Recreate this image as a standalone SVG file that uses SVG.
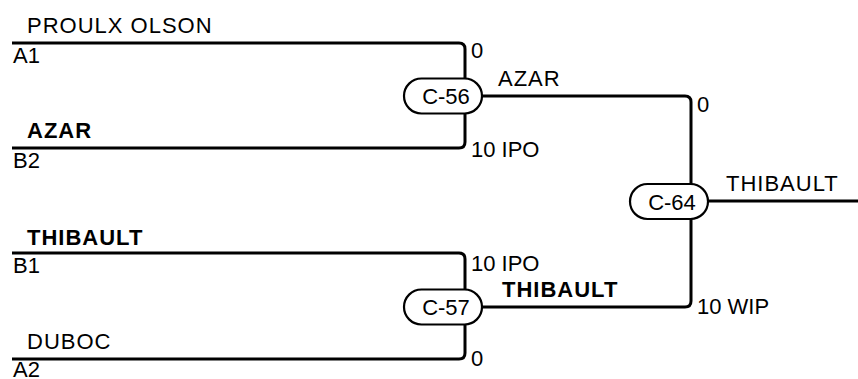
<svg xmlns="http://www.w3.org/2000/svg" width="858" height="379" viewBox="0 0 858 379">
<style>
text{font-family:"Liberation Sans",Arial,sans-serif;font-size:22px;fill:#000}
.b{font-weight:bold}
.n{letter-spacing:1px}
.ln{fill:none;stroke:#000;stroke-width:3}
.pill{fill:#fff;stroke:#000;stroke-width:2.2}
.pt{text-anchor:middle}
</style>
<rect width="858" height="379" fill="#fff"/>
<g id="connectors">
<path class="ln" d="M12,43 H459 Q465,43 465,49 V80"/>
<path class="ln" d="M12,148 H459 Q465,148 465,142 V111"/>
<path class="ln" d="M12,253 H459 Q465,253 465,259 V291"/>
<path class="ln" d="M12,359 H459 Q465,359 465,353 V323"/>
<path class="ln" d="M480,96 H685 Q691,96 691,102 V186"/>
<path class="ln" d="M480,307 H685 Q691,307 691,301 V217"/>
<path class="ln" d="M706,201 H858"/>
</g>
<g id="labels">
<text class="n" x="27" y="33">PROULX OLSON</text>
<text x="13" y="63">A1</text>
<text class="b n" x="27" y="138">AZAR</text>
<text x="13" y="168">B2</text>
<text class="b n" x="27" y="245">THIBAULT</text>
<text x="13" y="273">B1</text>
<text class="n" x="27" y="349">DUBOC</text>
<text x="13" y="377">A2</text>
<text x="471" y="58">0</text>
<text x="471" y="157">10 IPO</text>
<text x="471" y="271">10 IPO</text>
<text x="471" y="366">0</text>
<text class="n" x="498" y="86">AZAR</text>
<text class="b n" x="502" y="297">THIBAULT</text>
<text x="697" y="112">0</text>
<text x="697" y="314">10 WIP</text>
<text class="n" x="726" y="191">THIBAULT</text>
</g>
<g id="C-56">
<rect class="pill" x="404" y="78.5" width="78" height="35" rx="17.5"/>
<text class="pt" x="446" y="104">C-56</text>
</g>
<g id="C-57">
<rect class="pill" x="404" y="289.5" width="78" height="35" rx="17.5"/>
<text class="pt" x="446" y="315">C-57</text>
</g>
<g id="C-64">
<rect class="pill" x="630" y="184" width="78" height="35" rx="17.5"/>
<text class="pt" x="672" y="209.5">C-64</text>
</g>
</svg>
